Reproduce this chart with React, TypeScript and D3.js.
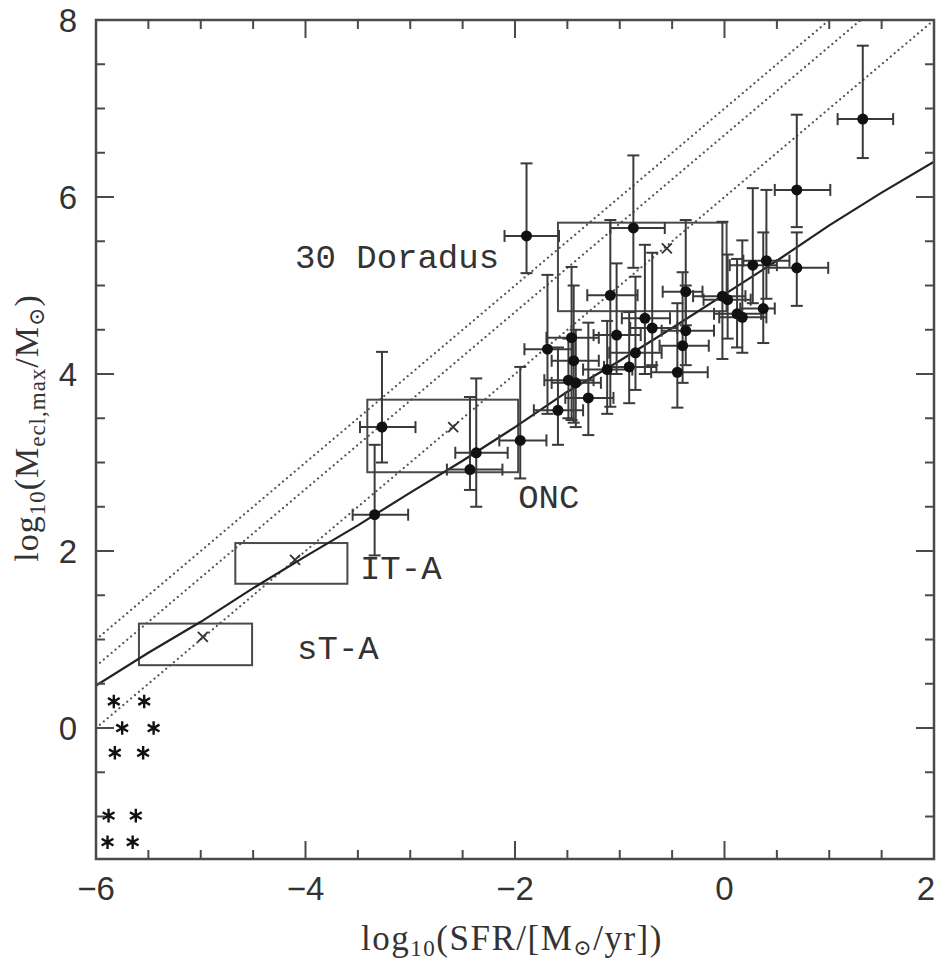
import React from "react";
import * as d3 from "d3";

// ---- data ----
const ptX = [1.32, 0.69, 0.69, 0.40, 0.27, 0.37, 0.17, 0.12, -0.02, 0.03, -0.37, -0.87, -1.89, -1.09, -0.76, -0.69, -0.37, -0.40, -0.45, -0.85, -1.03, -1.46, -1.69, -1.44, -1.12, -0.91, -1.49, -1.42, -1.30, -1.59, -1.95, -2.37, -2.43, -3.27, -3.34];
const ptY = [6.88, 6.08, 5.20, 5.28, 5.23, 4.74, 4.64, 4.68, 4.88, 4.84, 4.93, 5.65, 5.56, 4.89, 4.63, 4.52, 4.49, 4.32, 4.02, 4.24, 4.44, 4.41, 4.28, 4.15, 4.05, 4.08, 3.93, 3.90, 3.73, 3.59, 3.25, 3.11, 2.92, 3.40, 2.41];
const ptXLo = [1.08, 0.48, 0.42, 0.18, 0.05, 0.15, -0.05, -0.10, -0.30, -0.20, -0.59, -1.09, -2.10, -1.31, -0.98, -0.90, -0.60, -0.62, -0.70, -1.10, -1.25, -1.70, -1.91, -1.65, -1.35, -1.15, -1.72, -1.65, -1.52, -1.82, -2.15, -2.57, -2.65, -3.48, -3.55];
const ptXHi = [1.61, 1.01, 0.99, 0.62, 0.50, 0.48, 0.40, 0.35, 0.20, 0.25, -0.21, -0.57, -1.58, -0.83, -0.52, -0.45, -0.10, -0.15, -0.16, -0.60, -0.80, -1.20, -1.45, -1.20, -0.88, -0.65, -1.25, -1.18, -1.06, -1.35, -1.70, -2.07, -2.12, -2.95, -3.02];
const ptYLo = [6.44, 5.66, 4.77, 4.85, 4.80, 4.35, 4.24, 4.30, 4.17, 4.40, 4.55, 5.20, 5.14, 3.63, 4.00, 4.10, 4.10, 3.90, 3.62, 3.82, 4.00, 3.48, 3.55, 3.45, 3.55, 3.67, 3.50, 3.40, 3.31, 3.20, 2.82, 2.50, 2.69, 3.00, 1.95];
const ptYHi = [7.71, 6.93, 5.60, 6.08, 6.10, 5.60, 5.51, 5.30, 5.72, 5.35, 5.74, 6.47, 6.38, 5.74, 5.46, 5.37, 5.00, 5.15, 4.80, 5.10, 5.25, 5.21, 5.12, 5.00, 4.60, 4.70, 4.40, 4.50, 4.58, 4.30, 4.08, 3.95, 3.74, 4.25, 3.20];

const modelX = [-6, -5.5, -5, -4.5, -4, -3.5, -3, -2.5, -2, -1.5, -1, -0.5, 0, 0.5, 1, 1.5, 2];
const modelY = [0.48, 0.85, 1.20, 1.58, 1.94, 2.29, 2.66, 3.02, 3.40, 3.80, 4.15, 4.52, 4.90, 5.28, 5.68, 6.05, 6.40];

const dottedIntercepts = [7.0, 6.7, 6.0];

const boxNames = ["sT-A", "IT-A", "ONC", "30 Doradus"];
const boxX0 = [-5.59, -4.67, -3.41, -1.59];
const boxX1 = [-4.51, -3.60, -1.97, 0.02];
const boxY0 = [0.71, 1.63, 2.89, 4.71];
const boxY1 = [1.18, 2.09, 3.71, 5.71];
const crossX = [-4.98, -4.10, -2.59, -0.55];
const crossY = [1.03, 1.90, 3.40, 5.42];
const labelX = [-4.08, -3.48, -1.97, -4.10];
const labelY = [0.78, 1.68, 2.49, 5.20];

const starX = [-5.83, -5.54, -5.75, -5.45, -5.82, -5.55, -5.88, -5.62, -5.89, -5.65];
const starY = [0.30, 0.30, 0.0, 0.0, -0.28, -0.28, -0.99, -0.99, -1.29, -1.29];

const xMajorTicks = [-6, -4, -2, 0, 2];
const xTickLabels = ["\u22126", "\u22124", "\u22122", "0", "2"];
const yMajorTicks = [0, 2, 4, 6, 8];
const yTickLabels = ["0", "2", "4", "6", "8"];

// ---- layout ----
const W = 942, H = 966;
const L = 96, R = 934, T = 20, B = 859;

export default function App() {
  const x = d3.scaleLinear().domain([-6, 2]).range([L, R]);
  const y = d3.scaleLinear().domain([-1.48, 8]).range([B, T]);

  const xMinor = d3.range(-6, 2.001, 0.5);
  const yMinor = d3.range(-1, 8.001, 0.5);

  const model = d3.line<number>().x((d, i) => x(modelX[i])).y((d, i) => y(modelY[i]));
  const star = d3.symbol().type(d3.symbolAsterisk).size(130)();

  const frame = "#4a4a4a";
  const ebar = "#3a3a3a";
  const cap = 6;

  return (
    <svg width={W} height={H} style={{ position: "absolute", left: 0, top: 0, background: "#fff" }}>
      <defs>
        <clipPath id="plot">
          <rect x={L} y={T} width={R - L} height={B - T} />
        </clipPath>
      </defs>

      {/* dotted lines */}
      <g clipPath="url(#plot)">
        {dottedIntercepts.map((c, i) => (
          <line key={i} x1={x(-6)} y1={y(-6 + c)} x2={x(2)} y2={y(2 + c)}
            stroke="#555" strokeWidth={2.2} strokeDasharray="0.1 5" strokeLinecap="round" />
        ))}
      </g>

      {/* boxes */}
      {boxNames.map((n, i) => (
        <rect key={n} x={x(boxX0[i])} y={y(boxY1[i])} width={x(boxX1[i]) - x(boxX0[i])} height={y(boxY0[i]) - y(boxY1[i])}
          fill="none" stroke={frame} strokeWidth={2} />
      ))}

      {/* model line */}
      <g clipPath="url(#plot)">
        <path d={model(modelX) || ""} fill="none" stroke="#222" strokeWidth={2.2} />
      </g>

      {/* error bars */}
      {ptX.map((px, i) => (
        <g key={i} stroke={ebar} strokeWidth={2}>
          <line x1={x(ptXLo[i])} x2={x(ptXHi[i])} y1={y(ptY[i])} y2={y(ptY[i])} />
          <line x1={x(ptXLo[i])} x2={x(ptXLo[i])} y1={y(ptY[i]) - cap} y2={y(ptY[i]) + cap} />
          <line x1={x(ptXHi[i])} x2={x(ptXHi[i])} y1={y(ptY[i]) - cap} y2={y(ptY[i]) + cap} />
          <line x1={x(px)} x2={x(px)} y1={y(ptYLo[i])} y2={y(ptYHi[i])} />
          <line x1={x(px) - cap} x2={x(px) + cap} y1={y(ptYLo[i])} y2={y(ptYLo[i])} />
          <line x1={x(px) - cap} x2={x(px) + cap} y1={y(ptYHi[i])} y2={y(ptYHi[i])} />
        </g>
      ))}
      {ptX.map((px, i) => (
        <circle key={"c" + i} cx={x(px)} cy={y(ptY[i])} r={5.5} fill="#111" />
      ))}

      {/* crosses */}
      {crossX.map((cx, i) => (
        <g key={"x" + i} transform={`translate(${x(cx)},${y(crossY[i])})`} stroke="#333" strokeWidth={1.8}>
          <line x1={-5} y1={-5} x2={5} y2={5} />
          <line x1={-5} y1={5} x2={5} y2={-5} />
        </g>
      ))}

      {/* stars */}
      {starX.map((sx, i) => (
        <path key={"s" + i} d={star || ""} transform={`translate(${x(sx)},${y(starY[i])})`} fill="none" stroke="#111" strokeWidth={2.4} />
      ))}

      {/* box labels */}
      {boxNames.map((n, i) => (
        <text key={"l" + i} x={x(labelX[i])} y={y(labelY[i])} fontFamily="'Liberation Mono', 'DejaVu Sans Mono', monospace"
          fontSize={34} fill="#333" textAnchor="start">{n}</text>
      ))}

      {/* frame */}
      <rect x={L} y={T} width={R - L} height={B - T} fill="none" stroke={frame} strokeWidth={2.5} />

      {/* ticks */}
      <g stroke={frame} strokeWidth={2}>
        {xMinor.map((v, i) => {
          const major = xMajorTicks.some((m) => Math.abs(m - v) < 1e-6);
          const len = major ? 18 : 9;
          return (
            <g key={"xt" + i}>
              <line x1={x(v)} x2={x(v)} y1={B} y2={B - len} />
              <line x1={x(v)} x2={x(v)} y1={T} y2={T + len} />
            </g>
          );
        })}
        {yMinor.map((v, i) => {
          const major = yMajorTicks.some((m) => Math.abs(m - v) < 1e-6);
          const len = major ? 18 : 9;
          return (
            <g key={"yt" + i}>
              <line x1={L} x2={L + len} y1={y(v)} y2={y(v)} />
              <line x1={R} x2={R - len} y1={y(v)} y2={y(v)} />
            </g>
          );
        })}
      </g>

      {/* tick labels */}
      {xMajorTicks.map((v, i) => (
        <text key={"xl" + i} x={Math.min(x(v), 926)} y={900} textAnchor="middle" fontFamily="'Liberation Sans', Arial, sans-serif"
          fontSize={33} fill="#333">{xTickLabels[i]}</text>
      ))}
      {yMajorTicks.map((v, i) => (
        <text key={"yl" + i} x={77} y={y(v) + 12} textAnchor="end" fontFamily="'Liberation Sans', Arial, sans-serif"
          fontSize={33} fill="#333">{yTickLabels[i]}</text>
      ))}

      {/* axis titles */}
      <text x={512} y={950} textAnchor="middle" fontFamily="'Liberation Serif', 'DejaVu Serif', serif" fontSize={35} letterSpacing={1.5} fill="#333">
        log<tspan fontSize={23} dy={6}>10</tspan><tspan dy={-6}>(SFR/[M</tspan><tspan fontSize={22} dy={5}>⊙</tspan><tspan dy={-5}>/yr])</tspan>
      </text>
      <text transform="translate(38,428) rotate(-90)" textAnchor="middle" fontFamily="'Liberation Serif', 'DejaVu Serif', serif" fontSize={34} letterSpacing={1} fill="#333">
        log<tspan fontSize={23} dy={7}>10</tspan><tspan dy={-7}>(M</tspan><tspan fontSize={23} dy={7}>ecl,max</tspan><tspan dy={-7}>/M</tspan><tspan fontSize={22} dy={6}>⊙</tspan><tspan dy={-6}>)</tspan>
      </text>
    </svg>
  );
}
